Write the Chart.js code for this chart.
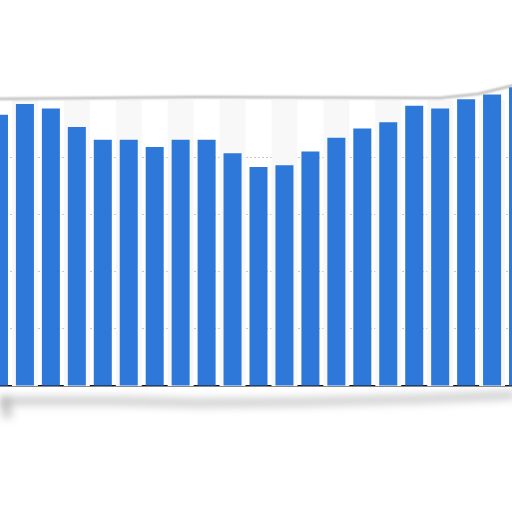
<!DOCTYPE html>
<html>
<head>
<meta charset="utf-8">
<script src="https://cdn.jsdelivr.net/npm/chart.js@4"></script>
<style>
  html, body { margin: 0; padding: 0; background: #fff; overflow: hidden; }
  #wrap { position: absolute; left: -14px; top: 0; width: 545px; height: 512px; }
</style>
</head>
<body>
<div id="wrap"><canvas id="chart-bars"></canvas></div>
<script>
// categories (labels torn off in the picture, guessed as years)
var years = ['2000', '2001', '2002', '2003', '2004', '2005', '2006', '2007', '2008', '2009', '2010',
             '2011', '2012', '2013', '2014', '2015', '2016', '2017', '2018', '2019', '2020'];
// bar heights (relative units)
var values = [94.8, 98.6, 97.0, 90.6, 86.1, 86.1, 83.6, 86.1, 86.1, 81.4, 76.6,
              77.2, 82.0, 86.8, 90.0, 92.2, 98.0, 97.0, 100.3, 101.9, 104.5];
var yTicks = [0, 20, 40, 60, 80, 100];
var barBlue = '#2d78d8';

// light bands behind every other category, below the torn edge
var bands = {
    id: 'bands',
    beforeDatasetsDraw: function(chart) {
        var ctx = chart.ctx, x = chart.scales.x, y = chart.scales.y;
        var top = y.getPixelForValue(100), bottom = y.getPixelForValue(0);
        var w = x.getPixelForValue(1) - x.getPixelForValue(0);
        ctx.save();
        ctx.fillStyle = '#f8f8f8';
        for (var i = 1; i < years.length; i += 2) {
            var cx = x.getPixelForValue(i);
            ctx.fillRect(cx - w / 2, top, w, bottom - top);
        }
        ctx.restore();
    }
};

// torn paper edges, top and bottom
var torn = {
    id: 'torn',
    afterDraw: function(chart) {
        var ctx = chart.ctx;
        var off = 14;
        ctx.save();
        ctx.filter = 'blur(1px)';
        ctx.strokeStyle = 'rgba(150,150,150,0.8)';
        ctx.lineWidth = 2;
        ctx.beginPath();
        ctx.moveTo(0, 99);
        ctx.lineTo(off + 200, 97);
        ctx.lineTo(off + 440, 98);
        ctx.lineTo(off + 478, 94);
        ctx.lineTo(off + 515, 85);
        ctx.stroke();

        ctx.filter = 'blur(4px)';
        ctx.strokeStyle = 'rgba(140,140,140,0.45)';
        ctx.lineWidth = 8;
        ctx.beginPath();
        ctx.moveTo(off + 2, 401);
        ctx.lineTo(off + 120, 401);
        ctx.lineTo(off + 200, 403);
        ctx.lineTo(off + 300, 402);
        ctx.lineTo(off + 420, 399);
        ctx.lineTo(off + 515, 395);
        ctx.stroke();
        ctx.lineWidth = 10;
        ctx.beginPath();
        ctx.moveTo(off + 4, 397);
        ctx.lineTo(off + 8, 418);
        ctx.stroke();
        ctx.restore();
    }
};

var ctxBars = document.getElementById('chart-bars').getContext('2d');
var myChartBars = new Chart(ctxBars, {
    type: 'bar',
    data: {
        labels: years,
        datasets: [{
            data: values,
            backgroundColor: barBlue,
            borderWidth: 0,
            categoryPercentage: 1,
            barPercentage: 0.694
        }]
    },
    options: {
        responsive: true,
        maintainAspectRatio: false,
        animation: false,
        layout: { padding: { top: 71.4, bottom: 126, left: 0, right: 0 } },
        plugins: {
            legend: { display: false },
            tooltip: { enabled: false }
        },
        scales: {
            x: {
                ticks: { display: false },
                grid: { display: false, drawTicks: false },
                border: { color: '#111', width: 1.5 }
            },
            y: {
                min: 0,
                max: 110,
                afterBuildTicks: function(axis) {
                    axis.ticks = yTicks.map(function(v) { return { value: v }; });
                },
                ticks: { display: false },
                border: { display: false, dash: [2, 2] },
                grid: {
                    drawTicks: false,
                    color: function(c) {
                        return (c.tick && c.tick.value > 0 && c.tick.value < 100) ? '#c9c9c9' : 'rgba(0,0,0,0)';
                    },
                    lineWidth: 1
                }
            }
        }
    },
    plugins: [bands, torn]
});
</script>
</body>
</html>
